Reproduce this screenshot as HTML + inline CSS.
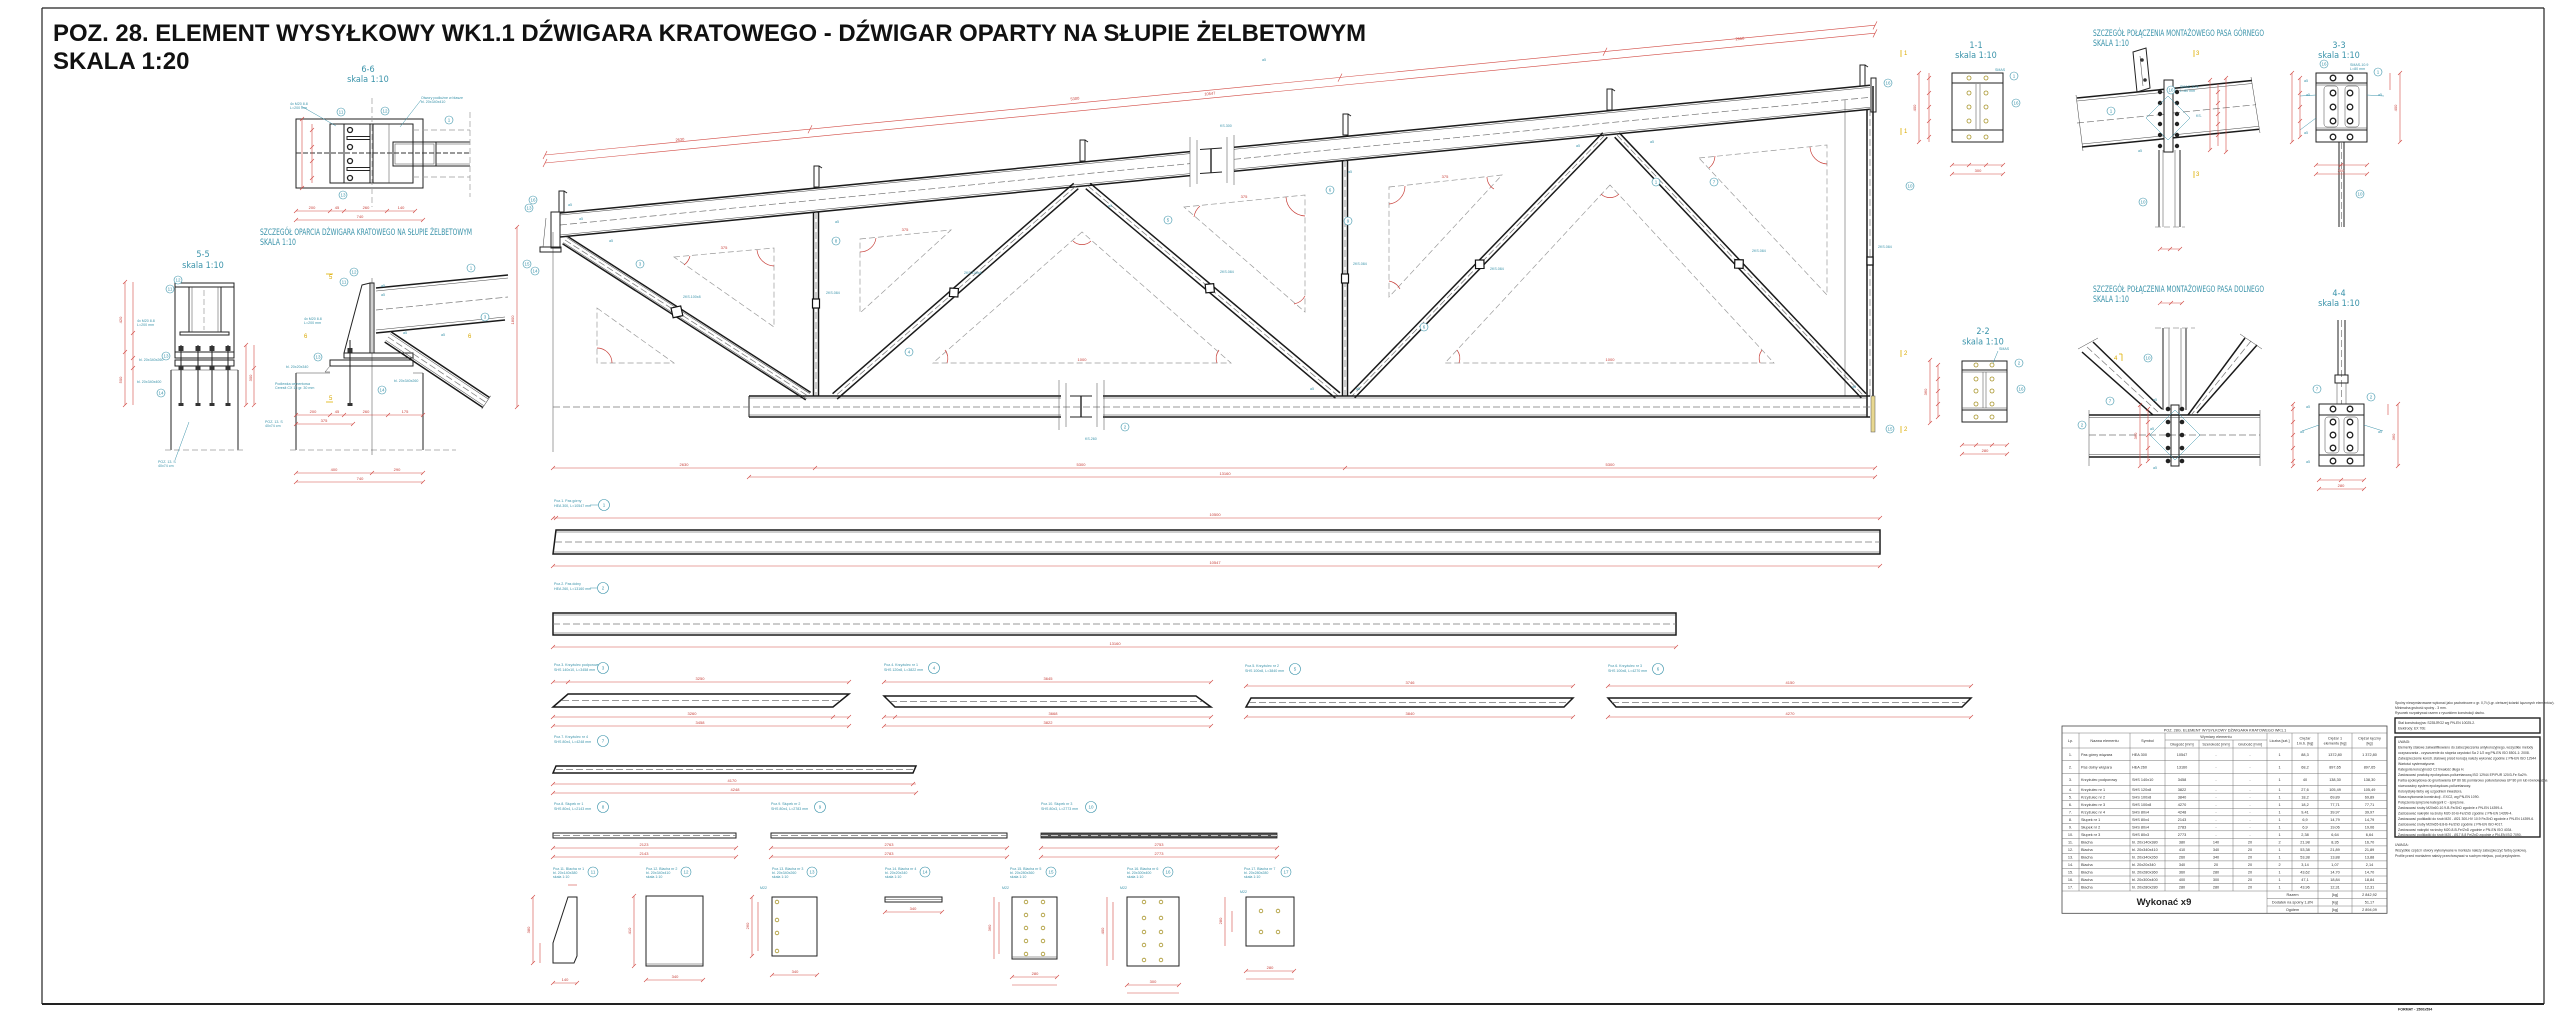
<!DOCTYPE html>
<html><head><meta charset="utf-8">
<style>
html,body{margin:0;padding:0;background:#fff;}
svg{display:block;}
.m{stroke:#1a1a1a;stroke-width:1.5;fill:none}
.k{stroke:#222;stroke-width:1;fill:none}
.t{stroke:#444;stroke-width:.5;fill:none}
.dc{stroke:#777;stroke-width:.7;stroke-dasharray:7 3;fill:none}
.dk{stroke:#333;stroke-width:1.1;stroke-dasharray:5 2;fill:none}
.g{stroke:#9a9a9a;stroke-width:.7;stroke-dasharray:6 3;fill:none}
.r{stroke:#d24a44;stroke-width:.6;fill:none}
.ra{stroke:#c8403a;stroke-width:.7;fill:none}
.cy{stroke:#3a93aa;stroke-width:.5;fill:none}
.cc{stroke:#3a93aa;stroke-width:.6;fill:#fff}
.ho{stroke:#a8952a;stroke-width:.8;fill:none}
.hb{stroke:#222;stroke-width:1.3;fill:#fff}
.dia{stroke:#111;stroke-width:1.2;fill:#fff}
.yl{stroke:#e0b000;stroke-width:.8;fill:none}
text{font-family:"Liberation Sans",Arial,sans-serif}
.ct{fill:#3a93aa;font-size:4.5px;text-anchor:middle}
.cs{fill:#3a93aa;font-size:3.6px}
.rt{fill:#c8403a;font-size:4px;text-anchor:middle}
.yt{fill:#d9a800;font-size:6px}
.st{fill:#3a93aa;font-size:9px;font-family:"DejaVu Sans Condensed","Liberation Sans Narrow","Liberation Sans",sans-serif}
.tb{fill:#333;font-size:3.8px;text-anchor:middle}
.tl{fill:#333;font-size:3.8px}
.nt{fill:#333;font-size:3.4px}
</style></head>
<body>
<svg width="2560" height="1014" viewBox="0 0 2560 1014" xmlns="http://www.w3.org/2000/svg">
<rect x="0" y="0" width="2560" height="1014" fill="#fff"/>
<!-- border -->
<line x1="42" y1="8" x2="2544" y2="8" stroke="#222" stroke-width="1.2"/>
<line x1="42" y1="8" x2="42" y2="1004" stroke="#222" stroke-width="1.2"/>
<line x1="2544" y1="8" x2="2544" y2="1004" stroke="#222" stroke-width="1.2"/>
<line x1="42" y1="1004" x2="2544" y2="1004" stroke="#222" stroke-width="2"/>
<text x="2398" y="1010.5" font-size="3.6" font-weight="bold" fill="#222">FORMAT - 1500x594</text>

<!-- title -->
<text x="53" y="41" font-size="24" font-weight="bold" fill="#111" textLength="1313" lengthAdjust="spacingAndGlyphs">POZ. 28. ELEMENT WYSYŁKOWY WK1.1 DŹWIGARA KRATOWEGO - DŹWIGAR OPARTY NA SŁUPIE ŻELBETOWYM</text>
<text x="53" y="69" font-size="24" font-weight="bold" fill="#111">SKALA 1:20</text>

<!-- ================= MAIN TRUSS ================= -->
<!-- top dimension lines (sloped) -->
<line x1="545" y1="155" x2="1875" y2="25.2" class="r"/>
<line x1="545" y1="163" x2="1875" y2="33.2" class="r"/>
<g class="r">
<line x1="543" y1="159" x2="547" y2="151"/><line x1="543" y1="167" x2="547" y2="159"/>
<line x1="808" y1="133.3" x2="812" y2="125.3"/><line x1="1338" y1="81.6" x2="1342" y2="73.6"/>
<line x1="1603" y1="55.7" x2="1607" y2="47.7"/><line x1="1873" y1="29.4" x2="1877" y2="21.4"/>
<line x1="1873" y1="37.4" x2="1877" y2="29.4"/>
</g>
<text class="rt" x="680" y="141" transform="rotate(-5.6 680 141)">2630</text>
<text class="rt" x="1075" y="100" transform="rotate(-5.6 1075 100)">5300</text>
<text class="rt" x="1210" y="95" transform="rotate(-5.6 1210 95)">10547</text>
<text class="rt" x="1740" y="40" transform="rotate(-5.6 1740 40)">2650</text>

<!-- vertical red dim left -->
<line x1="517" y1="227" x2="517" y2="407" class="r"/>
<line x1="515" y1="229" x2="519" y2="225" class="r"/><line x1="515" y1="409" x2="519" y2="405" class="r"/>
<text class="rt" x="514" y="320" transform="rotate(-90 514 320)">1800</text>
<line x1="553" y1="232" x2="553" y2="452" class="t"/>

<!-- top chord segment 1 -->
<line x1="560" y1="213" x2="1190" y2="151.6" class="m"/>
<line x1="560" y1="215" x2="1190" y2="153.6" class="t"/>
<line x1="560" y1="235" x2="1190" y2="173.6" class="t"/>
<line x1="560" y1="237" x2="1190" y2="175.6" class="m"/>
<line x1="560" y1="225" x2="1190" y2="163.6" class="dc"/>
<!-- break -->
<g class="t"><line x1="1190" y1="137" x2="1190" y2="187"/><line x1="1197" y1="140" x2="1197" y2="184"/><line x1="1227" y1="137" x2="1227" y2="183"/><line x1="1234" y1="135" x2="1234" y2="185"/></g>
<line x1="1211" y1="149" x2="1211" y2="173" stroke="#111" stroke-width="1.3"/>
<line x1="1200" y1="149.5" x2="1222" y2="148" class="k"/><line x1="1200" y1="173.5" x2="1222" y2="172" class="k"/>
<!-- top chord segment 2 -->
<line x1="1234" y1="147.3" x2="1870" y2="85.3" class="m"/>
<line x1="1234" y1="149.3" x2="1870" y2="87.3" class="t"/>
<line x1="1234" y1="169.3" x2="1870" y2="107.3" class="t"/>
<line x1="1234" y1="171.3" x2="1870" y2="109.3" class="m"/>
<line x1="1234" y1="159.3" x2="1870" y2="97.3" class="dc"/>

<!-- left end plate & stiffener -->
<rect x="551" y="212" width="9" height="36" class="k" fill="#fff"/>
<rect x="540" y="247" width="21" height="5" class="k" fill="#ddd"/>
<line x1="546" y1="218" x2="543" y2="247" class="t"/>
<!-- right end plate -->
<rect x="1871" y="78" width="5" height="34" class="k" fill="#ddd"/>

<!-- purlin cleats -->
<g class="k" fill="#eee">
<rect x="559" y="191" width="5" height="21"/>
<rect x="814" y="166" width="5" height="21"/>
<rect x="1080" y="140" width="5" height="21"/>
<rect x="1343" y="114" width="5" height="21"/>
<rect x="1607" y="89" width="5" height="21"/>
<rect x="1860" y="65" width="5" height="21"/>
</g>
<g class="k">
<line x1="564" y1="191" x2="567" y2="193"/><line x1="819" y1="166" x2="822" y2="168"/>
<line x1="1085" y1="140" x2="1088" y2="142"/><line x1="1348" y1="114" x2="1351" y2="116"/>
<line x1="1612" y1="89" x2="1615" y2="91"/><line x1="1865" y1="65" x2="1868" y2="67"/>
</g>

<!-- posts -->
<line x1="813.5" y1="212" x2="813.5" y2="396" class="m"/>
<line x1="818.5" y1="212" x2="818.5" y2="396" class="m"/>
<line x1="816" y1="212" x2="816" y2="396" class="dc"/>
<rect x="812.5" y="299" width="7" height="9" class="dia"/>
<line x1="1342.5" y1="160" x2="1342.5" y2="396" class="m"/>
<line x1="1347.5" y1="160" x2="1347.5" y2="396" class="m"/>
<line x1="1345" y1="160" x2="1345" y2="396" class="dc"/>
<rect x="1341.5" y="274" width="7" height="9" class="dia"/>
<line x1="1867" y1="109" x2="1867" y2="417" class="m"/>
<line x1="1873" y1="86" x2="1873" y2="417" class="m"/>
<line x1="1870" y1="109" x2="1870" y2="396" class="dc"/>
<rect x="1867" y="257" width="6" height="8" class="dia"/>
<line x1="1845" y1="100" x2="1845" y2="396" class="t"/>

<!-- diagonals -->
<g transform="translate(565,240) rotate(32.7)">
<line x1="0" y1="-4.5" x2="289" y2="-4.5" class="m"/><line x1="0" y1="4.5" x2="289" y2="4.5" class="m"/>
<line x1="0" y1="-3" x2="289" y2="-3" class="t"/><line x1="0" y1="3" x2="289" y2="3" class="t"/>
<line x1="0" y1="0" x2="289" y2="0" class="dc"/>
<polygon points="126,0 133,-7 140,0 133,7" class="dia"/>
</g>
<g transform="translate(1076,186) rotate(138.9)">
<line x1="0" y1="-3.5" x2="320" y2="-3.5" class="m"/><line x1="0" y1="3.5" x2="320" y2="3.5" class="m"/>
<line x1="0" y1="0" x2="320" y2="0" class="dc"/>
<polygon points="156,0 162,-6 168,0 162,6" class="dia"/>
</g>
<g transform="translate(1088,186) rotate(40)">
<line x1="0" y1="-3.5" x2="326" y2="-3.5" class="m"/><line x1="0" y1="3.5" x2="326" y2="3.5" class="m"/>
<line x1="0" y1="0" x2="326" y2="0" class="dc"/>
<polygon points="153,0 159,-6 165,0 159,6" class="dia"/>
</g>
<g transform="translate(1605,135) rotate(134.1)">
<line x1="0" y1="-3.2" x2="363" y2="-3.2" class="m"/><line x1="0" y1="3.2" x2="363" y2="3.2" class="m"/>
<line x1="0" y1="0" x2="363" y2="0" class="dc"/>
<polygon points="174,0 180,-6 186,0 180,6" class="dia"/>
</g>
<g transform="translate(1617,135) rotate(46.6)">
<line x1="0" y1="-3.2" x2="359" y2="-3.2" class="m"/><line x1="0" y1="3.2" x2="359" y2="3.2" class="m"/>
<line x1="0" y1="0" x2="359" y2="0" class="dc"/>
<polygon points="171.5,0 177.5,-6 183.5,0 177.5,6" class="dia"/>
</g>

<!-- bottom chord -->
<line x1="749" y1="396" x2="1061" y2="396" class="m"/>
<line x1="749" y1="398" x2="1061" y2="398" class="t"/>
<line x1="749" y1="415" x2="1061" y2="415" class="t"/>
<line x1="749" y1="417" x2="1061" y2="417" class="m"/>
<line x1="749" y1="396" x2="749" y2="417" class="k"/>
<line x1="1103" y1="396" x2="1870" y2="396" class="m"/>
<line x1="1103" y1="398" x2="1867" y2="398" class="t"/>
<line x1="1103" y1="415" x2="1867" y2="415" class="t"/>
<line x1="1103" y1="417" x2="1870" y2="417" class="m"/>
<line x1="553" y1="407" x2="1870" y2="407" class="dc"/>
<g class="t"><line x1="1059" y1="380" x2="1059" y2="430"/><line x1="1066" y1="383" x2="1066" y2="427"/><line x1="1097" y1="383" x2="1097" y2="427"/><line x1="1104" y1="380" x2="1104" y2="430"/></g>
<line x1="1081" y1="396" x2="1081" y2="417" stroke="#111" stroke-width="1.3"/>
<line x1="1070" y1="396" x2="1092" y2="396" class="k"/><line x1="1070" y1="417" x2="1092" y2="417" class="k"/>
<rect x="1871" y="396" width="4" height="36" fill="#e8d890" stroke="#555" stroke-width=".5"/>

<!-- dashed angle triangles -->
<g class="g">
<polygon points="674,257 774,248 774,327"/>
<polygon points="597,308 674,363 597,363"/>
<polygon points="860,239 951,230 860,313"/>
<polygon points="1184,207 1305,195 1305,312"/>
<polygon points="1389,187 1502,175 1389,297"/>
<polygon points="1699,158 1827,145 1827,295"/>
<polygon points="1082,232 933,363 1231,363"/>
<polygon points="1610,185 1445,363 1774,363"/>
</g>
<g class="ra">
<path d="M1073,241 A13,13 0 0 0 1091,241"/><path d="M1601,194 A13,13 0 0 0 1619,194"/>
<path d="M945,350 A14,14 0 0 1 947,363"/><path d="M1219,350 A14,14 0 0 0 1217,363"/>
<path d="M1457,350 A14,14 0 0 1 1459,363"/><path d="M1762,350 A14,14 0 0 0 1760,363"/>
<path d="M1200,206 A18,18 0 0 0 1194,217"/><path d="M1286,197 A20,20 0 0 0 1305,216"/>
<path d="M1405,186 A18,18 0 0 1 1389,204"/><path d="M1487,177 A14,14 0 0 0 1494,189"/>
<path d="M1715,156 A16,16 0 0 1 1709,168"/><path d="M1810,147 A18,18 0 0 0 1827,164"/>
<path d="M690,256 A16,16 0 0 1 684,265"/><path d="M757,250 A18,18 0 0 0 774,266"/>
<path d="M876,238 A16,16 0 0 1 860,252"/><path d="M597,348 A15,15 0 0 1 612,363"/>
<path d="M1389,281 A16,16 0 0 1 1400,289"/><path d="M1305,296 A16,16 0 0 1 1294,304"/>
</g>
<text class="rt" x="724" y="249">375</text><text class="rt" x="905" y="231">375</text>
<text class="rt" x="1244" y="198">375</text><text class="rt" x="1445" y="178">375</text>
<text class="rt" x="1082" y="361">1000</text><text class="rt" x="1610" y="361">1000</text>

<!-- bottom dims -->
<line x1="553" y1="468" x2="1875" y2="468" class="r"/>
<line x1="749" y1="477" x2="1875" y2="477" class="r"/>
<g class="r">
<line x1="551" y1="470" x2="555" y2="466"/><line x1="813" y1="470" x2="817" y2="466"/>
<line x1="1343" y1="470" x2="1347" y2="466"/><line x1="1873" y1="470" x2="1877" y2="466"/>
<line x1="747" y1="479" x2="751" y2="475"/><line x1="1873" y1="479" x2="1877" y2="475"/>
</g>
<text class="rt" x="684" y="466">2630</text><text class="rt" x="1081" y="466">5300</text><text class="rt" x="1610" y="466">5300</text>
<text class="rt" x="1225" y="475">13160</text>

<!-- cyan labels main truss -->
<g>
<circle cx="533" cy="200" r="4" class="cc"/><text class="ct" x="533" y="201.5">16</text>
<circle cx="529" cy="208" r="4" class="cc"/><text class="ct" x="529" y="209.5">13</text>
<circle cx="527" cy="264" r="4" class="cc"/><text class="ct" x="527" y="265.5">15</text>
<circle cx="535" cy="271" r="4" class="cc"/><text class="ct" x="535" y="272.5">14</text>
<circle cx="640" cy="264" r="4" class="cc"/><text class="ct" x="640" y="265.5">3</text>
<circle cx="836" cy="241" r="4" class="cc"/><text class="ct" x="836" y="242.5">8</text>
<circle cx="1168" cy="220" r="4" class="cc"/><text class="ct" x="1168" y="221.5">5</text>
<circle cx="1348" cy="221" r="4" class="cc"/><text class="ct" x="1348" y="222.5">9</text>
<circle cx="1330" cy="190" r="4" class="cc"/><text class="ct" x="1330" y="191.5">6</text>
<circle cx="1424" cy="327" r="4" class="cc"/><text class="ct" x="1424" y="328.5">6</text>
<circle cx="1714" cy="182" r="4" class="cc"/><text class="ct" x="1714" y="183.5">7</text>
<circle cx="1910" cy="186" r="4" class="cc"/><text class="ct" x="1910" y="187.5">10</text>
<circle cx="1888" cy="83" r="4" class="cc"/><text class="ct" x="1888" y="84.5">16</text>
<circle cx="1890" cy="429" r="4" class="cc"/><text class="ct" x="1890" y="430.5">15</text>
<circle cx="1125" cy="427" r="4" class="cc"/><text class="ct" x="1125" y="428.5">2</text>
<circle cx="1656" cy="182" r="4" class="cc"/><text class="ct" x="1656" y="183.5">1</text>
<circle cx="909" cy="352" r="4" class="cc"/><text class="ct" x="909" y="353.5">4</text>
</g>
<g class="cs">
<text x="568" y="206">a5</text><text x="579" y="220">a5</text><text x="609" y="242">a5</text>
<text x="683" y="298">2KS.100x8</text><text x="826" y="294">2KS.084</text><text x="964" y="274">2KS.100x8</text>
<text x="1220" y="273">2KS.084</text><text x="1353" y="265">2KS.084</text><text x="1490" y="270">2KS.084</text>
<text x="1752" y="252">2KS.084</text><text x="1878" y="248">2KS.084</text><text x="1085" y="440">KS.260</text>
<text x="1220" y="127">KS.300</text><text x="1262" y="61">a5</text><text x="835" y="223">a5</text>
<text x="1108" y="207">a5</text><text x="1348" y="173">a5</text><text x="1576" y="147">a5</text><text x="1650" y="143">a5</text>
<text x="1310" y="390">a5</text><text x="1356" y="390">a5</text><text x="1852" y="388">a5</text>
</g>

<!-- ================= 6-6 DETAIL ================= -->
<text class="st" x="368" y="72" text-anchor="middle" font-size="8">6-6</text>
<text class="st" x="368" y="82" text-anchor="middle" font-size="7">skala 1:10</text>
<rect x="296" y="119" width="127" height="69" class="k"/>
<rect x="330" y="124" width="83" height="59" class="k"/>
<line x1="344" y1="124" x2="344" y2="183" class="k"/>
<line x1="370" y1="124" x2="370" y2="183" class="k"/><line x1="373" y1="124" x2="373" y2="183" class="k"/>
<line x1="389" y1="124" x2="389" y2="183" class="t"/>
<rect x="347" y="136.5" width="23" height="3" class="k" fill="#ddd"/>
<rect x="347" y="167.5" width="23" height="3" class="k" fill="#ddd"/>
<circle cx="350" cy="130" r="2.5" class="hb"/><circle cx="350" cy="147" r="2.5" class="hb"/>
<circle cx="350" cy="161" r="2.5" class="hb"/><circle cx="350" cy="178" r="2.5" class="hb"/>
<rect x="393" y="142" width="43" height="24" class="k"/>
<rect x="395" y="144" width="39" height="20" class="t"/>
<line x1="436" y1="142" x2="470" y2="142" class="k"/><line x1="436" y1="166" x2="470" y2="166" class="k"/>
<line x1="436" y1="144" x2="470" y2="144" class="t"/><line x1="436" y1="164" x2="470" y2="164" class="t"/>
<line x1="296" y1="153" x2="470" y2="153" class="dk"/>
<line x1="413" y1="130" x2="470" y2="130" class="g"/><line x1="413" y1="177" x2="470" y2="177" class="g"/>
<line x1="372" y1="98" x2="372" y2="207" class="g"/><line x1="470" y1="112" x2="470" y2="197" class="g"/>
<line x1="296" y1="211" x2="415" y2="211" class="r"/><line x1="296" y1="220" x2="423" y2="220" class="r"/>
<g class="r"><line x1="294" y1="213" x2="298" y2="209"/><line x1="328" y1="213" x2="332" y2="209"/><line x1="342" y1="213" x2="346" y2="209"/><line x1="385" y1="213" x2="389" y2="209"/><line x1="413" y1="213" x2="417" y2="209"/><line x1="294" y1="222" x2="298" y2="218"/><line x1="421" y1="222" x2="425" y2="218"/>
<line x1="302" y1="119" x2="302" y2="188"/><line x1="312" y1="124" x2="312" y2="183"/>
<line x1="300" y1="121" x2="304" y2="117"/><line x1="300" y1="190" x2="304" y2="186"/><line x1="310" y1="132" x2="314" y2="128"/><line x1="310" y1="149" x2="314" y2="145"/><line x1="310" y1="163" x2="314" y2="159"/><line x1="310" y1="180" x2="314" y2="176"/></g>
<text class="rt" x="312" y="209">200</text><text class="rt" x="337" y="209">45</text><text class="rt" x="366" y="209">260</text><text class="rt" x="401" y="209">140</text><text class="rt" x="360" y="218">740</text>
<circle cx="341" cy="112" r="4" class="cc"/><text class="ct" x="341" y="113.5">11</text>
<circle cx="385" cy="111" r="4" class="cc"/><text class="ct" x="385" y="112.5">12</text>
<circle cx="343" cy="195" r="4" class="cc"/><text class="ct" x="343" y="196.5">13</text>
<circle cx="449" cy="120" r="4" class="cc"/><text class="ct" x="449" y="121.5">1</text>
<text class="cs" x="290" y="105">4x M20 8.8</text><text class="cs" x="290" y="109">L=200 mm</text>
<text class="cs" x="421" y="99">Otwory podłużne w blasze</text><text class="cs" x="421" y="103">bl. 20x340x410</text>
<line x1="301" y1="106" x2="336" y2="126" class="cy"/><line x1="421" y1="100" x2="400" y2="127" class="cy"/>
<text class="st" x="260" y="235" textLength="212" lengthAdjust="spacingAndGlyphs">SZCZEGÓŁ OPARCIA DŹWIGARA KRATOWEGO NA SŁUPIE ŻELBETOWYM</text>
<text class="st" x="260" y="245" textLength="36" lengthAdjust="spacingAndGlyphs">SKALA 1:10</text>

<!-- ================= 5-5 DETAIL ================= -->
<text class="st" x="203" y="257" text-anchor="middle" font-size="8">5-5</text>
<text class="st" x="203" y="268" text-anchor="middle" font-size="7">skala 1:10</text>
<line x1="175" y1="283" x2="175" y2="352" class="k"/><line x1="234" y1="283" x2="234" y2="352" class="k"/>
<rect x="175" y="283" width="59" height="4" class="k" fill="#eee"/>
<rect x="180" y="332" width="49" height="3" class="k" fill="#eee"/>
<line x1="189" y1="287" x2="189" y2="332" class="k"/><line x1="192" y1="287" x2="192" y2="332" class="t"/>
<line x1="218" y1="287" x2="218" y2="332" class="t"/><line x1="221" y1="287" x2="221" y2="332" class="k"/>
<line x1="204" y1="290" x2="204" y2="330" class="g"/>
<rect x="175" y="352" width="59" height="6" class="k" fill="#cfcfcf"/>
<rect x="175" y="360" width="59" height="6" class="k" fill="#e2e2e2"/>
<g class="k">
<line x1="181" y1="345" x2="181" y2="405"/><line x1="198" y1="345" x2="198" y2="405"/>
<line x1="212" y1="345" x2="212" y2="405"/><line x1="228" y1="345" x2="228" y2="405"/>
</g>
<g fill="#333">
<rect x="178.5" y="346" width="5" height="5"/><rect x="195.5" y="346" width="5" height="5"/><rect x="209.5" y="346" width="5" height="5"/><rect x="225.5" y="346" width="5" height="5"/>
<rect x="178.5" y="366" width="5" height="4"/><rect x="195.5" y="366" width="5" height="4"/><rect x="209.5" y="366" width="5" height="4"/><rect x="225.5" y="366" width="5" height="4"/>
<rect x="178.5" y="403" width="5" height="3"/><rect x="195.5" y="403" width="5" height="3"/><rect x="209.5" y="403" width="5" height="3"/><rect x="225.5" y="403" width="5" height="3"/>
</g>
<line x1="171" y1="370" x2="171" y2="450" class="k"/><line x1="238" y1="370" x2="238" y2="450" class="k"/>
<line x1="171" y1="370" x2="238" y2="370" class="t"/>
<line x1="165" y1="450" x2="245" y2="450" class="g"/>
<g class="r">
<line x1="125" y1="282" x2="125" y2="405"/><line x1="133" y1="282" x2="133" y2="405"/>
<line x1="246" y1="345" x2="246" y2="405"/><line x1="254" y1="345" x2="254" y2="405"/>
<line x1="123" y1="284" x2="127" y2="280"/><line x1="123" y1="354" x2="127" y2="350"/><line x1="123" y1="407" x2="127" y2="403"/>
<line x1="131" y1="335" x2="135" y2="331"/><line x1="131" y1="360" x2="135" y2="356"/><line x1="131" y1="370" x2="135" y2="366"/>
<line x1="244" y1="347" x2="248" y2="343"/><line x1="244" y1="407" x2="248" y2="403"/><line x1="252" y1="370" x2="256" y2="366"/><line x1="252" y1="407" x2="256" y2="403"/>
</g>
<text class="rt" x="122" y="320" transform="rotate(-90 122 320)">420</text>
<text class="rt" x="122" y="380" transform="rotate(-90 122 380)">500</text>
<text class="rt" x="252" y="378" transform="rotate(-90 252 378)">300</text>
<circle cx="170" cy="289" r="4" class="cc"/><text class="ct" x="170" y="290.5">11</text>
<circle cx="178" cy="280" r="4" class="cc"/><text class="ct" x="178" y="281.5">12</text>
<circle cx="166" cy="356" r="4" class="cc"/><text class="ct" x="166" y="357.5">13</text>
<circle cx="161" cy="393" r="4" class="cc"/><text class="ct" x="161" y="394.5">14</text>
<text class="cs" x="137" y="322">4x M20 8.8</text><text class="cs" x="137" y="326">L=200 mm</text>
<text class="cs" x="139" y="361">bl. 20x340x260</text><text class="cs" x="137" y="383">bl. 20x340x400</text>
<text class="cs" x="158" y="463">POZ. 13. S</text><text class="cs" x="158" y="467">40x74 cm</text>
<line x1="175" y1="460" x2="189" y2="422" class="cy"/>

<!-- ================= SUPPORT ELEVATION ================= -->
<line x1="296" y1="373" x2="296" y2="450" class="k"/><line x1="423" y1="373" x2="423" y2="450" class="k"/>
<line x1="296" y1="373" x2="330" y2="373" class="t"/><line x1="413" y1="373" x2="423" y2="373" class="t"/>
<line x1="290" y1="450" x2="456" y2="450" class="g"/>
<line x1="372" y1="278" x2="372" y2="455" class="t"/>
<rect x="330" y="360" width="83" height="6" class="k" fill="#d6d6d6"/>
<rect x="344" y="353" width="69" height="5" class="k" fill="#c8c8c8"/>
<path d="M330,366 L325,372 L330,372" class="t"/>
<line x1="350" y1="340" x2="350" y2="405" class="k"/>
<rect x="347.5" y="348" width="5" height="5" fill="#333"/><rect x="347.5" y="403" width="5" height="3" fill="#333"/>
<polygon points="362,285 370,283 370,353 344,353 350,330" class="k" fill="#fff"/>
<rect x="370" y="283" width="4" height="70" class="k" fill="#eee"/>
<line x1="376" y1="288" x2="508" y2="275" class="m"/>
<line x1="376" y1="291" x2="508" y2="278" class="t"/>
<line x1="376" y1="330" x2="505" y2="317" class="t"/>
<line x1="376" y1="333" x2="505" y2="320" class="m"/>
<line x1="376" y1="310" x2="508" y2="297" class="dc"/>
<g transform="translate(388,337) rotate(33.7)">
<line x1="0" y1="-6" x2="118" y2="-6" class="m"/><line x1="0" y1="6" x2="118" y2="6" class="m"/>
<line x1="0" y1="-4" x2="118" y2="-4" class="t"/><line x1="0" y1="4" x2="118" y2="4" class="t"/>
<line x1="0" y1="0" x2="118" y2="0" class="dc"/>
<line x1="118" y1="-8" x2="118" y2="8" class="t"/>
</g>
<line x1="296" y1="415" x2="423" y2="415" class="r"/><line x1="296" y1="424" x2="353" y2="424" class="r"/>
<line x1="296" y1="473" x2="423" y2="473" class="r"/><line x1="296" y1="482" x2="423" y2="482" class="r"/>
<g class="r"><line x1="294" y1="417" x2="298" y2="413"/><line x1="328" y1="417" x2="332" y2="413"/><line x1="342" y1="417" x2="346" y2="413"/><line x1="386" y1="417" x2="390" y2="413"/><line x1="421" y1="417" x2="425" y2="413"/>
<line x1="294" y1="426" x2="298" y2="422"/><line x1="351" y1="426" x2="355" y2="422"/>
<line x1="294" y1="475" x2="298" y2="471"/><line x1="370" y1="475" x2="374" y2="471"/><line x1="421" y1="475" x2="425" y2="471"/>
<line x1="294" y1="484" x2="298" y2="480"/><line x1="421" y1="484" x2="425" y2="480"/></g>
<text class="rt" x="313" y="413">200</text><text class="rt" x="337" y="413">45</text><text class="rt" x="366" y="413">260</text><text class="rt" x="405" y="413">175</text>
<text class="rt" x="324" y="422">375</text><text class="rt" x="334" y="471">400</text><text class="rt" x="397" y="471">290</text><text class="rt" x="360" y="480">740</text>
<text class="yt" x="329" y="279">5</text><text class="yt" x="329" y="400">5</text>
<text class="yt" x="304" y="338">6</text><text class="yt" x="468" y="338">6</text>
<line x1="326" y1="274" x2="333" y2="274" class="yl"/><line x1="326" y1="402" x2="333" y2="402" class="yl"/>
<circle cx="354" cy="272" r="4" class="cc"/><text class="ct" x="354" y="273.5">12</text>
<circle cx="344" cy="282" r="4" class="cc"/><text class="ct" x="344" y="283.5">11</text>
<circle cx="318" cy="357" r="4" class="cc"/><text class="ct" x="318" y="358.5">13</text>
<circle cx="382" cy="390" r="4" class="cc"/><text class="ct" x="382" y="391.5">14</text>
<circle cx="485" cy="317" r="4" class="cc"/><text class="ct" x="485" y="318.5">3</text>
<circle cx="471" cy="268" r="4" class="cc"/><text class="ct" x="471" y="269.5">1</text>
<text class="cs" x="304" y="320">4x M20 8.8</text><text class="cs" x="304" y="324">L=200 mm</text>
<text class="cs" x="286" y="368">bl. 20x20x340</text><text class="cs" x="275" y="385">Podlewka cementowa</text><text class="cs" x="275" y="389">Ceresit CX 15 gr. 30 mm</text>
<text class="cs" x="394" y="382">bl. 20x340x260</text>
<text class="cs" x="265" y="423">POZ. 13. S</text><text class="cs" x="265" y="427">40x74 cm</text>
<text class="cs" x="381" y="287">a5</text><text class="cs" x="381" y="296">a5</text><text class="cs" x="403" y="334">a5</text><text class="cs" x="441" y="336">a5</text>

<!-- ================= PARTS LIST ================= -->
<!-- Poz 1 -->
<text class="cs" x="554" y="502">Poz.1. Pas górny</text><text class="cs" x="554" y="507">HEA 300, L=10547 mm</text>
<line x1="590" y1="505" x2="598" y2="505" class="cy"/><circle cx="604" cy="505" r="5.5" class="cc"/><text class="ct" x="604" y="506.5">1</text>
<line x1="553" y1="518" x2="1880" y2="518" class="r"/><line x1="553" y1="566" x2="1880" y2="566" class="r"/>
<g class="r"><line x1="551" y1="520" x2="555" y2="516"/><line x1="554" y1="520" x2="558" y2="516"/><line x1="1878" y1="520" x2="1882" y2="516"/><line x1="551" y1="568" x2="555" y2="564"/><line x1="1878" y1="568" x2="1882" y2="564"/></g>
<text class="rt" x="1215" y="516">10500</text><text class="rt" x="1215" y="564">10547</text>
<polygon points="556,530 1880,530 1880,554 553,554" class="m"/>
<line x1="556" y1="532" x2="1880" y2="532" class="t"/><line x1="553" y1="552" x2="1880" y2="552" class="t"/>
<line x1="555" y1="542" x2="1880" y2="542" class="dc"/>
<!-- Poz 2 -->
<text class="cs" x="554" y="585">Poz.2. Pas dolny</text><text class="cs" x="554" y="590">HEA 260, L=13160 mm</text>
<line x1="590" y1="588" x2="597" y2="588" class="cy"/><circle cx="603" cy="588" r="5.5" class="cc"/><text class="ct" x="603" y="589.5">2</text>
<rect x="553" y="613" width="1123" height="22" class="m"/>
<line x1="553" y1="615" x2="1676" y2="615" class="t"/><line x1="553" y1="633" x2="1676" y2="633" class="t"/>
<line x1="553" y1="624" x2="1676" y2="624" class="dc"/>
<line x1="553" y1="647" x2="1676" y2="647" class="r"/>
<g class="r"><line x1="551" y1="649" x2="555" y2="645"/><line x1="1674" y1="649" x2="1678" y2="645"/></g>
<text class="rt" x="1115" y="645">13160</text>
<!-- Poz 3..6 -->
<text class="cs" x="554" y="666">Poz.3. Krzyżulec podporowy</text><text class="cs" x="554" y="671">SHS 140x10, L=3458 mm</text>
<circle cx="603" cy="668" r="5.5" class="cc"/><text class="ct" x="603" y="669.5">3</text>
<text class="cs" x="884" y="666">Poz.4. Krzyżulec nr 1</text><text class="cs" x="884" y="671">SHS 120x8, L=3822 mm</text>
<circle cx="934" cy="668" r="5.5" class="cc"/><text class="ct" x="934" y="669.5">4</text>
<text class="cs" x="1245" y="667">Poz.5. Krzyżulec nr 2</text><text class="cs" x="1245" y="672">SHS 100x8, L=3840 mm</text>
<circle cx="1295" cy="669" r="5.5" class="cc"/><text class="ct" x="1295" y="670.5">5</text>
<text class="cs" x="1608" y="667">Poz.6. Krzyżulec nr 3</text><text class="cs" x="1608" y="672">SHS 100x8, L=4270 mm</text>
<circle cx="1658" cy="669" r="5.5" class="cc"/><text class="ct" x="1658" y="670.5">6</text>
<g class="m" stroke-width="1.3">
<polygon points="568,694 849,694 833,707 553,707"/>
<polygon points="884,696 1196,696 1211,707 895,707"/>
<polygon points="1251,698 1573,698 1564,707 1246,707"/>
<polygon points="1608,698 1971,698 1962,707 1616,707"/>
</g>
<g class="dc" stroke="#555"><line x1="562" y1="700.5" x2="842" y2="700.5"/><line x1="890" y1="701.5" x2="1203" y2="701.5"/><line x1="1249" y1="702.5" x2="1568" y2="702.5"/><line x1="1612" y1="702.5" x2="1966" y2="702.5"/></g>
<g class="r">
<line x1="553" y1="682" x2="849" y2="682"/><line x1="553" y1="717" x2="849" y2="717"/><line x1="553" y1="726" x2="849" y2="726"/>
<line x1="884" y1="682" x2="1211" y2="682"/><line x1="884" y1="717" x2="1211" y2="717"/><line x1="884" y1="726" x2="1211" y2="726"/>
<line x1="1246" y1="686" x2="1573" y2="686"/><line x1="1246" y1="717" x2="1573" y2="717"/>
<line x1="1608" y1="686" x2="1971" y2="686"/><line x1="1608" y1="717" x2="1971" y2="717"/>
<line x1="551" y1="684" x2="555" y2="680"/><line x1="566" y1="684" x2="570" y2="680"/><line x1="847" y1="684" x2="851" y2="680"/>
<line x1="551" y1="719" x2="555" y2="715"/><line x1="831" y1="719" x2="835" y2="715"/><line x1="847" y1="719" x2="851" y2="715"/>
<line x1="551" y1="728" x2="555" y2="724"/><line x1="847" y1="728" x2="851" y2="724"/>
<line x1="882" y1="684" x2="886" y2="680"/><line x1="1209" y1="684" x2="1213" y2="680"/><line x1="882" y1="719" x2="886" y2="715"/><line x1="893" y1="719" x2="897" y2="715"/><line x1="1209" y1="719" x2="1213" y2="715"/><line x1="882" y1="728" x2="886" y2="724"/><line x1="1209" y1="728" x2="1213" y2="724"/>
<line x1="1244" y1="688" x2="1248" y2="684"/><line x1="1571" y1="688" x2="1575" y2="684"/><line x1="1244" y1="719" x2="1248" y2="715"/><line x1="1571" y1="719" x2="1575" y2="715"/>
<line x1="1606" y1="688" x2="1610" y2="684"/><line x1="1969" y1="688" x2="1973" y2="684"/><line x1="1606" y1="719" x2="1610" y2="715"/><line x1="1969" y1="719" x2="1973" y2="715"/>
</g>
<text class="rt" x="700" y="680">3250</text><text class="rt" x="692" y="715">3260</text><text class="rt" x="700" y="724">3458</text>
<text class="rt" x="1048" y="680">3645</text><text class="rt" x="1053" y="715">3668</text><text class="rt" x="1048" y="724">3822</text>
<text class="rt" x="1410" y="684">3746</text><text class="rt" x="1410" y="715">3840</text>
<text class="rt" x="1790" y="684">4150</text><text class="rt" x="1790" y="715">4270</text>
<!-- Poz 7 -->
<text class="cs" x="554" y="738">Poz.7. Krzyżulec nr 4</text><text class="cs" x="554" y="743">SHS 80x4, L=4248 mm</text>
<circle cx="603" cy="741" r="5.5" class="cc"/><text class="ct" x="603" y="742.5">7</text>
<polygon points="556,766 916,766 913,773 553,773" class="m" stroke-width="1.2"/>
<line x1="556" y1="769.5" x2="913" y2="769.5" class="dc"/>
<line x1="553" y1="784" x2="916" y2="784" class="r"/><line x1="553" y1="793" x2="916" y2="793" class="r"/>
<g class="r"><line x1="551" y1="786" x2="555" y2="782"/><line x1="911" y1="786" x2="915" y2="782"/><line x1="551" y1="795" x2="555" y2="791"/><line x1="914" y1="795" x2="918" y2="791"/></g>
<text class="rt" x="732" y="782">4170</text><text class="rt" x="735" y="791">4248</text>
<!-- Poz 8,9,10 -->
<text class="cs" x="554" y="805">Poz.8. Słupek nr 1</text><text class="cs" x="554" y="810">SHS 80x4, L=2143 mm</text>
<circle cx="603" cy="807" r="5.5" class="cc"/><text class="ct" x="603" y="808.5">8</text>
<text class="cs" x="771" y="805">Poz.9. Słupek nr 2</text><text class="cs" x="771" y="810">SHS 80x4, L=2783 mm</text>
<circle cx="820" cy="807" r="5.5" class="cc"/><text class="ct" x="820" y="808.5">9</text>
<text class="cs" x="1041" y="805">Poz.10. Słupek nr 3</text><text class="cs" x="1041" y="810">SHS 80x3, L=2773 mm</text>
<circle cx="1091" cy="807" r="5.5" class="cc"/><text class="ct" x="1091" y="808.5">10</text>
<rect x="553" y="833" width="183" height="5" class="k"/><line x1="553" y1="835.5" x2="736" y2="835.5" class="dc" stroke="#444"/>
<rect x="771" y="833" width="236" height="5" class="k"/><line x1="771" y1="835.5" x2="1007" y2="835.5" class="dc" stroke="#444"/>
<rect x="1041" y="833" width="236" height="5" fill="#555" stroke="#222" stroke-width=".8"/><line x1="1041" y1="835.5" x2="1277" y2="835.5" stroke="#eee" stroke-width=".8" stroke-dasharray="7 3"/>
<g class="r">
<line x1="553" y1="848" x2="736" y2="848"/><line x1="553" y1="857" x2="736" y2="857"/>
<line x1="771" y1="848" x2="1007" y2="848"/><line x1="771" y1="857" x2="1007" y2="857"/>
<line x1="1041" y1="848" x2="1277" y2="848"/><line x1="1041" y1="857" x2="1277" y2="857"/>
<line x1="551" y1="850" x2="555" y2="846"/><line x1="734" y1="850" x2="738" y2="846"/><line x1="551" y1="859" x2="555" y2="855"/><line x1="734" y1="859" x2="738" y2="855"/>
<line x1="769" y1="850" x2="773" y2="846"/><line x1="1005" y1="850" x2="1009" y2="846"/><line x1="769" y1="859" x2="773" y2="855"/><line x1="1005" y1="859" x2="1009" y2="855"/>
<line x1="1039" y1="850" x2="1043" y2="846"/><line x1="1275" y1="850" x2="1279" y2="846"/><line x1="1039" y1="859" x2="1043" y2="855"/><line x1="1275" y1="859" x2="1279" y2="855"/>
</g>
<text class="rt" x="644" y="846">2123</text><text class="rt" x="644" y="855">2143</text>
<text class="rt" x="889" y="846">2763</text><text class="rt" x="889" y="855">2783</text>
<text class="rt" x="1159" y="846">2753</text><text class="rt" x="1159" y="855">2773</text>

<!-- plates -->
<g class="cs">
<text x="553" y="870">Poz.11. Blacha nr 1</text><text x="553" y="874">bl. 20x140x380</text><text x="553" y="878">skala 1:10</text>
<text x="646" y="870">Poz.12. Blacha nr 2</text><text x="646" y="874">bl. 20x340x410</text><text x="646" y="878">skala 1:10</text>
<text x="772" y="870">Poz.13. Blacha nr 3</text><text x="772" y="874">bl. 20x340x260</text><text x="772" y="878">skala 1:10</text>
<text x="885" y="870">Poz.14. Blacha nr 4</text><text x="885" y="874">bl. 20x20x340</text><text x="885" y="878">skala 1:10</text>
<text x="1010" y="870">Poz.15. Blacha nr 5</text><text x="1010" y="874">bl. 20x280x360</text><text x="1010" y="878">skala 1:10</text>
<text x="1127" y="870">Poz.16. Blacha nr 6</text><text x="1127" y="874">bl. 20x300x400</text><text x="1127" y="878">skala 1:10</text>
<text x="1244" y="870">Poz.17. Blacha nr 7</text><text x="1244" y="874">bl. 20x280x280</text><text x="1244" y="878">skala 1:10</text>
</g>
<circle cx="593" cy="872" r="5" class="cc"/><text class="ct" x="593" y="873.5">11</text>
<circle cx="686" cy="872" r="5" class="cc"/><text class="ct" x="686" y="873.5">12</text>
<circle cx="812" cy="872" r="5" class="cc"/><text class="ct" x="812" y="873.5">13</text>
<circle cx="925" cy="872" r="5" class="cc"/><text class="ct" x="925" y="873.5">14</text>
<circle cx="1051" cy="872" r="5" class="cc"/><text class="ct" x="1051" y="873.5">15</text>
<circle cx="1168" cy="872" r="5" class="cc"/><text class="ct" x="1168" y="873.5">16</text>
<circle cx="1286" cy="872" r="5" class="cc"/><text class="ct" x="1286" y="873.5">17</text>

<polygon points="568,897 577,897 577,956 574,963 553,963 553,943" class="k" stroke-width="1.1"/>
<rect x="646" y="896" width="57" height="70" class="k" stroke-width="1.1"/>
<line x1="646" y1="964" x2="703" y2="964" class="t"/>
<rect x="772" y="897" width="45" height="59" class="k" stroke-width="1.1"/>
<g class="ho"><circle cx="777" cy="902" r="1.8"/><circle cx="777" cy="920" r="1.8"/><circle cx="777" cy="933" r="1.8"/><circle cx="777" cy="951" r="1.8"/></g>
<rect x="885" y="897" width="57" height="5" class="k"/><line x1="885" y1="899.5" x2="942" y2="899.5" class="t"/>
<rect x="1012" y="897" width="45" height="62" class="k" stroke-width="1.1"/>
<line x1="1012" y1="957" x2="1057" y2="957" class="t"/>
<g class="ho">
<circle cx="1026" cy="902" r="1.8"/><circle cx="1043" cy="902" r="1.8"/><circle cx="1026" cy="915" r="1.8"/><circle cx="1043" cy="915" r="1.8"/>
<circle cx="1026" cy="928" r="1.8"/><circle cx="1043" cy="928" r="1.8"/><circle cx="1026" cy="941" r="1.8"/><circle cx="1043" cy="941" r="1.8"/>
<circle cx="1026" cy="954" r="1.8"/><circle cx="1043" cy="954" r="1.8"/>
</g>
<rect x="1127" y="897" width="52" height="69" class="k" stroke-width="1.1"/>
<g class="ho">
<circle cx="1144" cy="902" r="1.8"/><circle cx="1161" cy="902" r="1.8"/><circle cx="1144" cy="918" r="1.8"/><circle cx="1161" cy="918" r="1.8"/>
<circle cx="1144" cy="932" r="1.8"/><circle cx="1161" cy="932" r="1.8"/><circle cx="1144" cy="945" r="1.8"/><circle cx="1161" cy="945" r="1.8"/>
<circle cx="1144" cy="960" r="1.8"/><circle cx="1161" cy="960" r="1.8"/>
</g>
<rect x="1246" y="897" width="48" height="49" class="k" stroke-width="1.1"/>
<g class="ho"><circle cx="1261" cy="911" r="1.8"/><circle cx="1278" cy="911" r="1.8"/><circle cx="1261" cy="932" r="1.8"/><circle cx="1278" cy="932" r="1.8"/></g>
<g class="r">
<line x1="533" y1="897" x2="533" y2="963"/><line x1="540" y1="943" x2="540" y2="963"/><line x1="553" y1="983" x2="577" y2="983"/><line x1="568" y1="885" x2="577" y2="885"/>
<line x1="634" y1="896" x2="634" y2="966"/><line x1="646" y1="980" x2="703" y2="980"/>
<line x1="752" y1="897" x2="752" y2="956"/><line x1="758" y1="902" x2="758" y2="951"/><line x1="772" y1="975" x2="817" y2="975"/>
<line x1="885" y1="912" x2="942" y2="912"/>
<line x1="994" y1="897" x2="994" y2="959"/><line x1="999" y1="902" x2="999" y2="954"/><line x1="1012" y1="977" x2="1057" y2="977"/><line x1="1012" y1="985" x2="1057" y2="985"/>
<line x1="1107" y1="897" x2="1107" y2="966"/><line x1="1113" y1="902" x2="1113" y2="960"/><line x1="1127" y1="985" x2="1179" y2="985"/><line x1="1127" y1="993" x2="1179" y2="993"/>
<line x1="1225" y1="897" x2="1225" y2="946"/><line x1="1232" y1="911" x2="1232" y2="932"/><line x1="1246" y1="971" x2="1294" y2="971"/><line x1="1246" y1="979" x2="1294" y2="979"/>
<line x1="531" y1="899" x2="535" y2="895"/><line x1="531" y1="965" x2="535" y2="961"/><line x1="551" y1="985" x2="555" y2="981"/><line x1="575" y1="985" x2="579" y2="981"/>
<line x1="632" y1="898" x2="636" y2="894"/><line x1="632" y1="968" x2="636" y2="964"/><line x1="644" y1="982" x2="648" y2="978"/><line x1="701" y1="982" x2="705" y2="978"/>
<line x1="750" y1="899" x2="754" y2="895"/><line x1="750" y1="958" x2="754" y2="954"/><line x1="770" y1="977" x2="774" y2="973"/><line x1="815" y1="977" x2="819" y2="973"/>
<line x1="883" y1="914" x2="887" y2="910"/><line x1="940" y1="914" x2="944" y2="910"/>
<line x1="1010" y1="979" x2="1014" y2="975"/><line x1="1055" y1="979" x2="1059" y2="975"/><line x1="1125" y1="987" x2="1129" y2="983"/><line x1="1177" y1="987" x2="1181" y2="983"/>
<line x1="1244" y1="973" x2="1248" y2="969"/><line x1="1292" y1="973" x2="1296" y2="969"/>
</g>
<text class="rt" x="530" y="930" transform="rotate(-90 530 930)">380</text><text class="rt" x="631" y="931" transform="rotate(-90 631 931)">410</text>
<text class="rt" x="749" y="926" transform="rotate(-90 749 926)">260</text><text class="rt" x="991" y="928" transform="rotate(-90 991 928)">360</text>
<text class="rt" x="1104" y="931" transform="rotate(-90 1104 931)">400</text><text class="rt" x="1222" y="921" transform="rotate(-90 1222 921)">280</text>
<text class="rt" x="565" y="981">140</text><text class="rt" x="675" y="978">340</text><text class="rt" x="795" y="973">340</text>
<text class="rt" x="913" y="910">340</text><text class="rt" x="1035" y="975">280</text><text class="rt" x="1153" y="983">300</text><text class="rt" x="1270" y="969">280</text>
<text class="cs" x="760" y="889">M22</text><text class="cs" x="1002" y="889">M22</text><text class="cs" x="1120" y="889">M22</text><text class="cs" x="1240" y="893">M22</text>

<!-- ================= 1-1 SECTION ================= -->
<text class="st" x="1976" y="48" text-anchor="middle" font-size="8">1-1</text>
<text class="st" x="1976" y="58" text-anchor="middle" font-size="7">skala 1:10</text>
<rect x="1952" y="73" width="51" height="69" class="k" stroke-width="1.1"/>
<line x1="1952" y1="83" x2="2003" y2="83" class="k"/><line x1="1952" y1="130" x2="2003" y2="130" class="k"/>
<line x1="1976" y1="84" x2="1976" y2="129" class="t"/><line x1="1980" y1="84" x2="1980" y2="129" class="t"/>
<g class="ho">
<circle cx="1969" cy="78" r="2"/><circle cx="1986" cy="78" r="2"/><circle cx="1969" cy="93" r="2"/><circle cx="1986" cy="93" r="2"/>
<circle cx="1969" cy="107" r="2"/><circle cx="1986" cy="107" r="2"/><circle cx="1969" cy="121" r="2"/><circle cx="1986" cy="121" r="2"/>
<circle cx="1969" cy="137" r="2"/><circle cx="1986" cy="137" r="2"/>
</g>
<g class="r">
<line x1="1919" y1="73" x2="1919" y2="142"/><line x1="1929" y1="73" x2="1929" y2="142"/>
<line x1="1917" y1="75" x2="1921" y2="71"/><line x1="1917" y1="144" x2="1921" y2="140"/>
<line x1="1927" y1="80" x2="1931" y2="76"/><line x1="1927" y1="95" x2="1931" y2="91"/><line x1="1927" y1="109" x2="1931" y2="105"/><line x1="1927" y1="123" x2="1931" y2="119"/><line x1="1927" y1="139" x2="1931" y2="135"/>
<line x1="1952" y1="165" x2="2003" y2="165"/><line x1="1952" y1="174" x2="2003" y2="174"/>
<line x1="1950" y1="167" x2="1954" y2="163"/><line x1="1967" y1="167" x2="1971" y2="163"/><line x1="1984" y1="167" x2="1988" y2="163"/><line x1="2001" y1="167" x2="2005" y2="163"/>
<line x1="1950" y1="176" x2="1954" y2="172"/><line x1="2001" y1="176" x2="2005" y2="172"/>
</g>
<text class="rt" x="1916" y="108" transform="rotate(-90 1916 108)">400</text><text class="rt" x="1978" y="172">300</text>
<text class="yt" x="1904" y="55">1</text><text class="yt" x="1904" y="133">1</text>
<line x1="1901" y1="50" x2="1901" y2="57" class="yl"/><line x1="1901" y1="128" x2="1901" y2="135" class="yl"/>
<circle cx="2014" cy="76" r="4" class="cc"/><text class="ct" x="2014" y="77.5">1</text>
<circle cx="2016" cy="103" r="4" class="cc"/><text class="ct" x="2016" y="104.5">16</text>
<text class="cs" x="1995" y="71">SMAS</text>

<!-- ================= UPPER CONNECTION DETAIL ================= -->
<text class="st" x="2093" y="36" textLength="171" lengthAdjust="spacingAndGlyphs">SZCZEGÓŁ POŁĄCZENIA MONTAŻOWEGO PASA GÓRNEGO</text>
<text class="st" x="2093" y="46" textLength="36" lengthAdjust="spacingAndGlyphs">SKALA 1:10</text>
<line x1="2077" y1="98" x2="2164" y2="89.3" class="m"/>
<line x1="2077" y1="101" x2="2164" y2="92.3" class="t"/>
<line x1="2082" y1="144" x2="2164" y2="135.8" class="t"/>
<line x1="2082" y1="147" x2="2164" y2="138.8" class="m"/>
<line x1="2077" y1="123" x2="2164" y2="114.3" class="dc"/>
<line x1="2076" y1="95" x2="2083" y2="151" class="t"/>
<line x1="2173" y1="88.4" x2="2252" y2="80.5" class="m"/>
<line x1="2173" y1="91.4" x2="2252" y2="83.5" class="t"/>
<line x1="2173" y1="134.9" x2="2259" y2="126.3" class="t"/>
<line x1="2173" y1="137.9" x2="2259" y2="129.3" class="m"/>
<line x1="2173" y1="113" x2="2256" y2="104.7" class="dc"/>
<line x1="2251" y1="77" x2="2260" y2="133" class="t"/>
<rect x="2164" y="80" width="9" height="72" class="k" fill="#fff" stroke-width="1.2"/>
<g fill="#222">
<circle cx="2160" cy="92" r="2.2"/><circle cx="2177" cy="92" r="2.2"/><circle cx="2160" cy="103" r="2.2"/><circle cx="2177" cy="103" r="2.2"/>
<circle cx="2160" cy="114" r="2.2"/><circle cx="2177" cy="114" r="2.2"/><circle cx="2160" cy="124" r="2.2"/><circle cx="2177" cy="124" r="2.2"/>
<circle cx="2160" cy="135" r="2.2"/><circle cx="2177" cy="135" r="2.2"/><circle cx="2160" cy="146" r="2.2"/><circle cx="2177" cy="146" r="2.2"/>
</g>
<line x1="2159" y1="150" x2="2159" y2="227" class="k"/><line x1="2163" y1="150" x2="2163" y2="227" class="t"/>
<line x1="2175" y1="150" x2="2175" y2="227" class="t"/><line x1="2180" y1="150" x2="2180" y2="227" class="k"/>
<line x1="2155" y1="227" x2="2185" y2="227" class="g"/>
<polygon points="2133,52 2146,48 2150,88 2137,92" class="k" fill="#fff" stroke-width="1.1"/>
<line x1="2140" y1="56" x2="2143" y2="86" class="t"/>
<circle cx="2142" cy="60" r="1.8" fill="#333"/><circle cx="2145" cy="80" r="1.8" fill="#333"/>
<polygon points="2168,96 2190,118 2168,140 2146,118" class="cy"/>
<g class="r">
<line x1="2210" y1="80" x2="2210" y2="150"/><line x1="2218" y1="84" x2="2218" y2="146"/><line x1="2226" y1="78" x2="2226" y2="152"/>
<line x1="2208" y1="82" x2="2212" y2="78"/><line x1="2208" y1="152" x2="2212" y2="148"/>
<line x1="2216" y1="94" x2="2220" y2="90"/><line x1="2216" y1="105" x2="2220" y2="101"/><line x1="2216" y1="116" x2="2220" y2="112"/><line x1="2216" y1="126" x2="2220" y2="122"/><line x1="2216" y1="137" x2="2220" y2="133"/>
<line x1="2224" y1="80" x2="2228" y2="76"/><line x1="2224" y1="154" x2="2228" y2="150"/>
<line x1="2160" y1="249" x2="2180" y2="249"/><line x1="2158" y1="251" x2="2162" y2="247"/><line x1="2168" y1="251" x2="2172" y2="247"/><line x1="2178" y1="251" x2="2182" y2="247"/>
</g>
<text class="yt" x="2196" y="55">3</text><text class="yt" x="2196" y="176">3</text>
<line x1="2194" y1="50" x2="2194" y2="57" class="yl"/><line x1="2194" y1="171" x2="2194" y2="178" class="yl"/>
<circle cx="2111" cy="111" r="4" class="cc"/><text class="ct" x="2111" y="112.5">1</text>
<circle cx="2171" cy="90" r="4" class="cc"/><text class="ct" x="2171" y="91.5">16</text>
<circle cx="2143" cy="202" r="4" class="cc"/><text class="ct" x="2143" y="203.5">10</text>
<text class="cs" x="2180" y="88">SMAS-10.9</text><text class="cs" x="2180" y="92">L=80 mm</text>
<text class="cs" x="2138" y="152">a5</text><text class="cs" x="2196" y="117">KS.</text>

<!-- ================= 3-3 SECTION ================= -->
<text class="st" x="2339" y="48" text-anchor="middle" font-size="8">3-3</text>
<text class="st" x="2339" y="58" text-anchor="middle" font-size="7">skala 1:10</text>
<rect x="2316" y="73" width="51" height="69" class="k" stroke-width="1.2"/>
<line x1="2316" y1="83" x2="2367" y2="83" class="k"/><line x1="2316" y1="85" x2="2367" y2="85" class="t"/>
<line x1="2316" y1="130" x2="2367" y2="130" class="k"/><line x1="2316" y1="128" x2="2367" y2="128" class="t"/>
<rect x="2324" y="86" width="14" height="41" rx="3" class="t"/><rect x="2345" y="86" width="14" height="41" rx="3" class="t"/>
<g class="hb">
<circle cx="2333" cy="78" r="2.8"/><circle cx="2350" cy="78" r="2.8"/><circle cx="2333" cy="93" r="2.8"/><circle cx="2350" cy="93" r="2.8"/>
<circle cx="2333" cy="107" r="2.8"/><circle cx="2350" cy="107" r="2.8"/><circle cx="2333" cy="121" r="2.8"/><circle cx="2350" cy="121" r="2.8"/>
<circle cx="2333" cy="137" r="2.8"/><circle cx="2350" cy="137" r="2.8"/>
</g>
<line x1="2339" y1="142" x2="2339" y2="227" class="k"/><line x1="2344" y1="142" x2="2344" y2="227" class="k"/>
<line x1="2341.5" y1="142" x2="2341.5" y2="227" class="dc"/>
<g class="cy"><line x1="2316" y1="95" x2="2300" y2="96"/><line x1="2367" y1="95" x2="2384" y2="96"/><line x1="2316" y1="118" x2="2300" y2="130"/></g>
<g class="r">
<line x1="2292" y1="73" x2="2292" y2="142"/><line x1="2300" y1="78" x2="2300" y2="137"/><line x1="2400" y1="73" x2="2400" y2="142"/><line x1="2390" y1="73" x2="2390" y2="90"/>
<line x1="2290" y1="75" x2="2294" y2="71"/><line x1="2290" y1="144" x2="2294" y2="140"/>
<line x1="2298" y1="80" x2="2302" y2="76"/><line x1="2298" y1="95" x2="2302" y2="91"/><line x1="2298" y1="109" x2="2302" y2="105"/><line x1="2298" y1="123" x2="2302" y2="119"/><line x1="2298" y1="139" x2="2302" y2="135"/>
<line x1="2398" y1="75" x2="2402" y2="71"/><line x1="2398" y1="144" x2="2402" y2="140"/>
<line x1="2316" y1="165" x2="2367" y2="165"/><line x1="2316" y1="174" x2="2367" y2="174"/>
<line x1="2314" y1="167" x2="2318" y2="163"/><line x1="2339" y1="167" x2="2343" y2="163"/><line x1="2365" y1="167" x2="2369" y2="163"/>
<line x1="2314" y1="176" x2="2318" y2="172"/><line x1="2365" y1="176" x2="2369" y2="172"/>
</g>
<text class="rt" x="2397" y="108" transform="rotate(-90 2397 108)">400</text><text class="rt" x="2341" y="172">300</text>
<circle cx="2324" cy="64" r="4" class="cc"/><text class="ct" x="2324" y="65.5">16</text>
<circle cx="2378" cy="72" r="4" class="cc"/><text class="ct" x="2378" y="73.5">1</text>
<circle cx="2360" cy="194" r="4" class="cc"/><text class="ct" x="2360" y="195.5">10</text>
<text class="cs" x="2350" y="66">SMAS-10.9</text><text class="cs" x="2350" y="70">L=80 mm</text>
<text class="cs" x="2306" y="96">a5</text><text class="cs" x="2378" y="96">a5</text><text class="cs" x="2304" y="82">a5</text><text class="cs" x="2304" y="134">a5</text>

<!-- ================= 2-2 SECTION ================= -->
<text class="st" x="1983" y="334" text-anchor="middle" font-size="8">2-2</text>
<text class="st" x="1983" y="344.5" text-anchor="middle" font-size="7">skala 1:10</text>
<rect x="1962" y="361" width="45" height="61" class="k" stroke-width="1.1"/>
<line x1="1962" y1="370" x2="2007" y2="370" class="k"/><line x1="1962" y1="372" x2="2007" y2="372" class="t"/>
<line x1="1962" y1="410" x2="2007" y2="410" class="k"/><line x1="1962" y1="408" x2="2007" y2="408" class="t"/>
<line x1="1983" y1="372" x2="1983" y2="408" class="t"/><line x1="1986" y1="372" x2="1986" y2="408" class="t"/>
<g class="ho">
<circle cx="1976" cy="365" r="2"/><circle cx="1992" cy="365" r="2"/><circle cx="1976" cy="379" r="2"/><circle cx="1992" cy="379" r="2"/>
<circle cx="1976" cy="391" r="2"/><circle cx="1992" cy="391" r="2"/><circle cx="1976" cy="404" r="2"/><circle cx="1992" cy="404" r="2"/>
<circle cx="1976" cy="417" r="2"/><circle cx="1992" cy="417" r="2"/>
</g>
<g class="r">
<line x1="1930" y1="360" x2="1930" y2="423"/><line x1="1938" y1="365" x2="1938" y2="417"/>
<line x1="1928" y1="362" x2="1932" y2="358"/><line x1="1928" y1="425" x2="1932" y2="421"/>
<line x1="1936" y1="367" x2="1940" y2="363"/><line x1="1936" y1="381" x2="1940" y2="377"/><line x1="1936" y1="393" x2="1940" y2="389"/><line x1="1936" y1="406" x2="1940" y2="402"/><line x1="1936" y1="419" x2="1940" y2="415"/>
<line x1="1962" y1="445" x2="2007" y2="445"/><line x1="1962" y1="454" x2="2007" y2="454"/>
<line x1="1960" y1="447" x2="1964" y2="443"/><line x1="1974" y1="447" x2="1978" y2="443"/><line x1="1990" y1="447" x2="1994" y2="443"/><line x1="2005" y1="447" x2="2009" y2="443"/>
<line x1="1960" y1="456" x2="1964" y2="452"/><line x1="2005" y1="456" x2="2009" y2="452"/>
</g>
<text class="rt" x="1927" y="392" transform="rotate(-90 1927 392)">360</text><text class="rt" x="1985" y="452">280</text>
<text class="yt" x="1904" y="355">2</text><text class="yt" x="1904" y="431">2</text>
<line x1="1901" y1="350" x2="1901" y2="357" class="yl"/><line x1="1901" y1="426" x2="1901" y2="433" class="yl"/>
<circle cx="2019" cy="363" r="4" class="cc"/><text class="ct" x="2019" y="364.5">2</text>
<circle cx="2021" cy="389" r="4" class="cc"/><text class="ct" x="2021" y="390.5">16</text>
<text class="cs" x="1999" y="350">SMAS</text>
<line x1="1998" y1="351" x2="1993" y2="363" class="cy"/>

<!-- ================= LOWER CONNECTION DETAIL ================= -->
<text class="st" x="2093" y="292" textLength="171" lengthAdjust="spacingAndGlyphs">SZCZEGÓŁ POŁĄCZENIA MONTAŻOWEGO PASA DOLNEGO</text>
<text class="st" x="2093" y="302" textLength="36" lengthAdjust="spacingAndGlyphs">SKALA 1:10</text>
<g class="r"><line x1="2160" y1="303" x2="2182" y2="303"/><line x1="2158" y1="305" x2="2162" y2="301"/><line x1="2169" y1="305" x2="2173" y2="301"/><line x1="2180" y1="305" x2="2184" y2="301"/></g>
<line x1="2089" y1="415" x2="2260" y2="415" class="m"/>
<line x1="2089" y1="417.5" x2="2260" y2="417.5" class="t"/>
<line x1="2089" y1="454.5" x2="2260" y2="454.5" class="t"/>
<line x1="2089" y1="457" x2="2260" y2="457" class="m"/>
<line x1="2089" y1="435" x2="2260" y2="435" class="dc"/>
<line x1="2089" y1="410" x2="2089" y2="466" class="t"/><line x1="2260" y1="410" x2="2260" y2="466" class="t"/>
<line x1="2163" y1="328" x2="2163" y2="410" class="k"/><line x1="2169" y1="328" x2="2169" y2="410" class="t"/>
<line x1="2181" y1="328" x2="2181" y2="410" class="t"/><line x1="2186" y1="328" x2="2186" y2="410" class="k"/>
<line x1="2155" y1="328" x2="2195" y2="328" class="g"/>
<line x1="2082" y1="352" x2="2153" y2="415" class="m"/><line x1="2093" y1="342" x2="2162" y2="409" class="m"/>
<line x1="2087" y1="347" x2="2158" y2="412" class="dc"/>
<line x1="2078" y1="349" x2="2098" y2="338" class="t"/>
<line x1="2245" y1="338" x2="2188" y2="415" class="m"/><line x1="2257" y1="345" x2="2197" y2="413" class="m"/>
<line x1="2251" y1="341" x2="2192" y2="414" class="dc"/>
<line x1="2240" y1="334" x2="2262" y2="349" class="t"/>
<rect x="2171" y="405" width="8" height="61" class="k" fill="#fff" stroke-width="1.2"/>
<g fill="#222">
<circle cx="2168" cy="409" r="2.3"/><circle cx="2182" cy="409" r="2.3"/><circle cx="2168" cy="422" r="2.3"/><circle cx="2182" cy="422" r="2.3"/>
<circle cx="2168" cy="435" r="2.3"/><circle cx="2182" cy="435" r="2.3"/><circle cx="2168" cy="448" r="2.3"/><circle cx="2182" cy="448" r="2.3"/>
<circle cx="2168" cy="461" r="2.3"/><circle cx="2182" cy="461" r="2.3"/>
</g>
<polygon points="2175,410 2150,435 2175,460 2200,435" class="cy"/>
<g class="r">
<line x1="2140" y1="405" x2="2140" y2="466"/><line x1="2148" y1="409" x2="2148" y2="461"/>
<line x1="2138" y1="407" x2="2142" y2="403"/><line x1="2138" y1="468" x2="2142" y2="464"/>
<line x1="2146" y1="411" x2="2150" y2="407"/><line x1="2146" y1="424" x2="2150" y2="420"/><line x1="2146" y1="437" x2="2150" y2="433"/><line x1="2146" y1="450" x2="2150" y2="446"/><line x1="2146" y1="463" x2="2150" y2="459"/>
</g>
<text class="rt" x="2137" y="436" transform="rotate(-90 2137 436)">360</text>
<text class="yt" x="2114" y="360">4</text><line x1="2119" y1="354" x2="2122" y2="354" class="yl"/><line x1="2122" y1="354" x2="2122" y2="361" class="yl"/>
<circle cx="2148" cy="358" r="4" class="cc"/><text class="ct" x="2148" y="359.5">10</text>
<circle cx="2110" cy="401" r="4" class="cc"/><text class="ct" x="2110" y="402.5">7</text>
<circle cx="2082" cy="425" r="4" class="cc"/><text class="ct" x="2082" y="426.5">2</text>
<text class="cs" x="2153" y="401">a5</text><text class="cs" x="2150" y="430">a5</text><text class="cs" x="2153" y="469">a5</text>

<!-- ================= 4-4 SECTION ================= -->
<text class="st" x="2339" y="296" text-anchor="middle" font-size="8">4-4</text>
<text class="st" x="2339" y="306" text-anchor="middle" font-size="7">skala 1:10</text>
<line x1="2338" y1="320" x2="2338" y2="375" class="k"/><line x1="2345" y1="320" x2="2345" y2="375" class="k"/>
<line x1="2341.5" y1="320" x2="2341.5" y2="404" class="dc"/>
<rect x="2335" y="375" width="13" height="8" class="k" fill="#fff" stroke-width="1.1"/>
<line x1="2337" y1="383" x2="2337" y2="404" class="t"/><line x1="2346" y1="383" x2="2346" y2="404" class="t"/>
<rect x="2319" y="404" width="45" height="62" class="k" stroke-width="1.2"/>
<line x1="2319" y1="415" x2="2364" y2="415" class="k"/><line x1="2319" y1="455" x2="2364" y2="455" class="k"/>
<rect x="2325" y="417" width="14" height="36" rx="3" class="t"/><rect x="2344" y="417" width="14" height="36" rx="3" class="t"/>
<g class="hb">
<circle cx="2333" cy="409" r="2.8"/><circle cx="2350" cy="409" r="2.8"/><circle cx="2333" cy="422" r="2.8"/><circle cx="2350" cy="422" r="2.8"/>
<circle cx="2333" cy="435" r="2.8"/><circle cx="2350" cy="435" r="2.8"/><circle cx="2333" cy="448" r="2.8"/><circle cx="2350" cy="448" r="2.8"/>
<circle cx="2333" cy="461" r="2.8"/><circle cx="2350" cy="461" r="2.8"/>
</g>
<g class="cy"><line x1="2319" y1="425" x2="2302" y2="431"/><line x1="2364" y1="425" x2="2383" y2="431"/></g>
<g class="r">
<line x1="2293" y1="404" x2="2293" y2="466"/><line x1="2398" y1="404" x2="2398" y2="466"/><line x1="2388" y1="404" x2="2388" y2="415"/>
<line x1="2291" y1="406" x2="2295" y2="402"/><line x1="2291" y1="411" x2="2295" y2="407"/><line x1="2291" y1="424" x2="2295" y2="420"/><line x1="2291" y1="437" x2="2295" y2="433"/><line x1="2291" y1="450" x2="2295" y2="446"/><line x1="2291" y1="463" x2="2295" y2="459"/><line x1="2291" y1="468" x2="2295" y2="464"/>
<line x1="2396" y1="406" x2="2400" y2="402"/><line x1="2396" y1="468" x2="2400" y2="464"/>
<line x1="2319" y1="480" x2="2364" y2="480"/><line x1="2319" y1="489" x2="2364" y2="489"/>
<line x1="2317" y1="482" x2="2321" y2="478"/><line x1="2339" y1="482" x2="2343" y2="478"/><line x1="2362" y1="482" x2="2366" y2="478"/><line x1="2317" y1="491" x2="2321" y2="487"/><line x1="2362" y1="491" x2="2366" y2="487"/>
</g>
<text class="rt" x="2395" y="437" transform="rotate(-90 2395 437)">360</text><text class="rt" x="2341" y="487">280</text>
<circle cx="2317" cy="389" r="4" class="cc"/><text class="ct" x="2317" y="390.5">7</text>
<circle cx="2371" cy="397" r="4" class="cc"/><text class="ct" x="2371" y="398.5">2</text>
<text class="cs" x="2306" y="408">a5</text><text class="cs" x="2300" y="433">a5</text><text class="cs" x="2378" y="433">a5</text><text class="cs" x="2306" y="463">a5</text>

<!-- ================= TABLE ================= -->
<g>
<rect x="2062" y="726" width="325" height="187.3" fill="#fff" stroke="#444" stroke-width=".8"/>
<g stroke="#666" stroke-width=".45">
<line x1="2062" y1="733" x2="2387" y2="733"/>
<line x1="2165" y1="740" x2="2267" y2="740"/>
<line x1="2062" y1="748" x2="2387" y2="748"/>
<line x1="2062" y1="760.7" x2="2387" y2="760.7"/>
<line x1="2062" y1="773.3" x2="2387" y2="773.3"/>
<line x1="2062" y1="785.7" x2="2387" y2="785.7"/>
<line x1="2062" y1="793.2" x2="2387" y2="793.2"/>
<line x1="2062" y1="800.7" x2="2387" y2="800.7"/>
<line x1="2062" y1="808.3" x2="2387" y2="808.3"/>
<line x1="2062" y1="815.8" x2="2387" y2="815.8"/>
<line x1="2062" y1="823.3" x2="2387" y2="823.3"/>
<line x1="2062" y1="830.8" x2="2387" y2="830.8"/>
<line x1="2062" y1="838.4" x2="2387" y2="838.4"/>
<line x1="2062" y1="845.9" x2="2387" y2="845.9"/>
<line x1="2062" y1="853.4" x2="2387" y2="853.4"/>
<line x1="2062" y1="860.9" x2="2387" y2="860.9"/>
<line x1="2062" y1="868.5" x2="2387" y2="868.5"/>
<line x1="2062" y1="876" x2="2387" y2="876"/>
<line x1="2062" y1="883.5" x2="2387" y2="883.5"/>
<line x1="2062" y1="891" x2="2387" y2="891"/>
<line x1="2267" y1="898.3" x2="2387" y2="898.3"/>
<line x1="2267" y1="906" x2="2387" y2="906"/>
<line x1="2079" y1="733" x2="2079" y2="891"/>
<line x1="2130" y1="733" x2="2130" y2="891"/>
<line x1="2165" y1="733" x2="2165" y2="891"/>
<line x1="2199" y1="740" x2="2199" y2="891"/>
<line x1="2233" y1="740" x2="2233" y2="891"/>
<line x1="2267" y1="733" x2="2267" y2="913"/>
<line x1="2292" y1="733" x2="2292" y2="891"/>
<line x1="2318" y1="733" x2="2318" y2="913"/>
<line x1="2352" y1="733" x2="2352" y2="913"/>
</g>
<text class="tb" x="2225" y="731.3">POZ. 28G. ELEMENT WYSYŁKOWY DŹWIGARA KRATOWEGO WK1.1</text>
<text class="tb" x="2070.5" y="742">Lp.</text>
<text class="tb" x="2104.5" y="742">Nazwa elementu</text>
<text class="tb" x="2147.5" y="742">Symbol</text>
<text class="tb" x="2216" y="738">Wymiary elementu</text>
<text class="tb" x="2182" y="745.5">Długość [mm]</text>
<text class="tb" x="2216" y="745.5">Szerokość [mm]</text>
<text class="tb" x="2250" y="745.5">Grubość [mm]</text>
<text class="tb" x="2279.5" y="742">Liczba [szt.]</text>
<text class="tb" x="2305" y="739.5">Ciężar</text><text class="tb" x="2305" y="744.5">1m.b. [kg]</text>
<text class="tb" x="2335" y="739.5">Ciężar 1</text><text class="tb" x="2335" y="744.5">elementu [kg]</text>
<text class="tb" x="2369.5" y="739.5">Ciężar łączny</text><text class="tb" x="2369.5" y="744.5">[kg]</text>

<g class="tb">
<text x="2070.5" y="755.8">1.</text><text x="2070.5" y="768.4">2.</text><text x="2070.5" y="780.9">3.</text>
<text x="2070.5" y="790.9">4.</text><text x="2070.5" y="798.4">5.</text><text x="2070.5" y="805.9">6.</text><text x="2070.5" y="813.4">7.</text>
<text x="2070.5" y="821">8.</text><text x="2070.5" y="828.4">9.</text><text x="2070.5" y="836">10.</text><text x="2070.5" y="843.5">11.</text>
<text x="2070.5" y="851.1">12.</text><text x="2070.5" y="858.6">13.</text><text x="2070.5" y="866.1">14.</text><text x="2070.5" y="873.6">15.</text>
<text x="2070.5" y="881.2">16.</text><text x="2070.5" y="888.7">17.</text>
</g>
<g class="tl">
<text x="2081" y="755.8">Pas górny wiązara</text><text x="2132" y="755.8">HEA 300</text>
<text x="2081" y="768.4">Pas dolny wiązara</text><text x="2132" y="768.4">HEA 260</text>
<text x="2081" y="780.9">Krzyżulec podporowy</text><text x="2132" y="780.9">SHS 140x10</text>
<text x="2081" y="790.9">Krzyżulec nr 1</text><text x="2132" y="790.9">SHS 120x8</text>
<text x="2081" y="798.4">Krzyżulec nr 2</text><text x="2132" y="798.4">SHS 100x8</text>
<text x="2081" y="805.9">Krzyżulec nr 3</text><text x="2132" y="805.9">SHS 100x8</text>
<text x="2081" y="813.4">Krzyżulec nr 4</text><text x="2132" y="813.4">SHS 80x4</text>
<text x="2081" y="821">Słupek nr 1</text><text x="2132" y="821">SHS 80x4</text>
<text x="2081" y="828.4">Słupek nr 2</text><text x="2132" y="828.4">SHS 80x4</text>
<text x="2081" y="836">Słupek nr 3</text><text x="2132" y="836">SHS 80x3</text>
<text x="2081" y="843.5">Blacha</text><text x="2132" y="843.5">bl. 20x140x380</text>
<text x="2081" y="851.1">Blacha</text><text x="2132" y="851.1">bl. 20x340x410</text>
<text x="2081" y="858.6">Blacha</text><text x="2132" y="858.6">bl. 20x340x260</text>
<text x="2081" y="866.1">Blacha</text><text x="2132" y="866.1">bl. 20x20x340</text>
<text x="2081" y="873.6">Blacha</text><text x="2132" y="873.6">bl. 20x280x360</text>
<text x="2081" y="881.2">Blacha</text><text x="2132" y="881.2">bl. 20x300x400</text>
<text x="2081" y="888.7">Blacha</text><text x="2132" y="888.7">bl. 20x280x280</text>
</g>
<g class="tb">
<text x="2182" y="755.8">10547</text><text x="2216" y="755.8">-</text><text x="2250" y="755.8">-</text><text x="2279.5" y="755.8">1</text><text x="2305" y="755.8">88,3</text><text x="2335" y="755.8">1372,80</text><text x="2369.5" y="755.8">1 372,80</text>
<text x="2182" y="768.4">13160</text><text x="2216" y="768.4">-</text><text x="2250" y="768.4">-</text><text x="2279.5" y="768.4">1</text><text x="2305" y="768.4">68,2</text><text x="2335" y="768.4">897,65</text><text x="2369.5" y="768.4">897,65</text>
<text x="2182" y="780.9">3458</text><text x="2216" y="780.9">-</text><text x="2250" y="780.9">-</text><text x="2279.5" y="780.9">1</text><text x="2305" y="780.9">40</text><text x="2335" y="780.9">138,30</text><text x="2369.5" y="780.9">138,30</text>
<text x="2182" y="790.9">3822</text><text x="2216" y="790.9">-</text><text x="2250" y="790.9">-</text><text x="2279.5" y="790.9">1</text><text x="2305" y="790.9">27,6</text><text x="2335" y="790.9">105,49</text><text x="2369.5" y="790.9">105,49</text>
<text x="2182" y="798.4">3840</text><text x="2216" y="798.4">-</text><text x="2250" y="798.4">-</text><text x="2279.5" y="798.4">1</text><text x="2305" y="798.4">18,2</text><text x="2335" y="798.4">69,89</text><text x="2369.5" y="798.4">69,89</text>
<text x="2182" y="805.9">4270</text><text x="2216" y="805.9">-</text><text x="2250" y="805.9">-</text><text x="2279.5" y="805.9">1</text><text x="2305" y="805.9">18,2</text><text x="2335" y="805.9">77,71</text><text x="2369.5" y="805.9">77,71</text>
<text x="2182" y="813.4">4248</text><text x="2216" y="813.4">-</text><text x="2250" y="813.4">-</text><text x="2279.5" y="813.4">1</text><text x="2305" y="813.4">9,41</text><text x="2335" y="813.4">39,97</text><text x="2369.5" y="813.4">39,97</text>
<text x="2182" y="821">2143</text><text x="2216" y="821">-</text><text x="2250" y="821">-</text><text x="2279.5" y="821">1</text><text x="2305" y="821">6,9</text><text x="2335" y="821">14,79</text><text x="2369.5" y="821">14,79</text>
<text x="2182" y="828.4">2783</text><text x="2216" y="828.4">-</text><text x="2250" y="828.4">-</text><text x="2279.5" y="828.4">1</text><text x="2305" y="828.4">6,9</text><text x="2335" y="828.4">19,06</text><text x="2369.5" y="828.4">19,06</text>
<text x="2182" y="836">2773</text><text x="2216" y="836">-</text><text x="2250" y="836">-</text><text x="2279.5" y="836">1</text><text x="2305" y="836">2,38</text><text x="2335" y="836">6,64</text><text x="2369.5" y="836">6,64</text>
<text x="2182" y="843.5">380</text><text x="2216" y="843.5">140</text><text x="2250" y="843.5">20</text><text x="2279.5" y="843.5">2</text><text x="2305" y="843.5">21,98</text><text x="2335" y="843.5">8,35</text><text x="2369.5" y="843.5">16,70</text>
<text x="2182" y="851.1">410</text><text x="2216" y="851.1">340</text><text x="2250" y="851.1">20</text><text x="2279.5" y="851.1">1</text><text x="2305" y="851.1">53,38</text><text x="2335" y="851.1">21,89</text><text x="2369.5" y="851.1">21,89</text>
<text x="2182" y="858.6">260</text><text x="2216" y="858.6">340</text><text x="2250" y="858.6">20</text><text x="2279.5" y="858.6">1</text><text x="2305" y="858.6">53,38</text><text x="2335" y="858.6">13,88</text><text x="2369.5" y="858.6">13,88</text>
<text x="2182" y="866.1">340</text><text x="2216" y="866.1">20</text><text x="2250" y="866.1">20</text><text x="2279.5" y="866.1">2</text><text x="2305" y="866.1">3,14</text><text x="2335" y="866.1">1,07</text><text x="2369.5" y="866.1">2,14</text>
<text x="2182" y="873.6">360</text><text x="2216" y="873.6">280</text><text x="2250" y="873.6">20</text><text x="2279.5" y="873.6">1</text><text x="2305" y="873.6">43,62</text><text x="2335" y="873.6">14,70</text><text x="2369.5" y="873.6">14,70</text>
<text x="2182" y="881.2">400</text><text x="2216" y="881.2">300</text><text x="2250" y="881.2">20</text><text x="2279.5" y="881.2">1</text><text x="2305" y="881.2">47,1</text><text x="2335" y="881.2">18,84</text><text x="2369.5" y="881.2">18,84</text>
<text x="2182" y="888.7">280</text><text x="2216" y="888.7">280</text><text x="2250" y="888.7">20</text><text x="2279.5" y="888.7">1</text><text x="2305" y="888.7">43,96</text><text x="2335" y="888.7">12,31</text><text x="2369.5" y="888.7">12,31</text>
<text x="2292.5" y="896">Razem</text><text x="2335" y="896">[kg]</text><text x="2369.5" y="896">2 842,92</text>
<text x="2292.5" y="903.6">Dodatek na spoiny 1,8%</text><text x="2335" y="903.6">[kg]</text><text x="2369.5" y="903.6">51,17</text>
<text x="2292.5" y="911.1">Ogółem</text><text x="2335" y="911.1">[kg]</text><text x="2369.5" y="911.1">2 894,09</text>
</g>
<text x="2164" y="905" font-size="9.5" font-weight="bold" fill="#222" text-anchor="middle">Wykonać x9</text>
</g>

<!-- ================= NOTES ================= -->
<g class="nt">
<text x="2395" y="704">Spoiny niewymiarowane wykonać jako pachwinowe o gr. 0,7t (t-gr. cieńszej ścianki łączonych elementów).</text>
<text x="2395" y="709">Minimalna grubość spoiny - 3 mm.</text>
<text x="2395" y="714">Rysunek rozpatrywać razem z rysunkiem konstrukcji dachu.</text>
</g>
<rect x="2395" y="718" width="145" height="15" fill="none" stroke="#222" stroke-width="1.4"/>
<g class="nt">
<text x="2398" y="724">Stal konstrukcyjna: S235JRG2 wg PN-EN 10025-2.</text>
<text x="2398" y="729.5">Elektrody: EX 70E</text>
</g>
<rect x="2395" y="737" width="145" height="100" fill="none" stroke="#222" stroke-width="1.4"/>
<g class="nt" font-size="3.2">
<text x="2398" y="743">UWAGI:</text>
<text x="2398" y="748.5">Elementy stalowe zakwalifikowano do zabezpieczenia antykorozyjnego, wszystkie metody</text>
<text x="2398" y="754">oczyszczania - czyszczenie do stopnia czystości Sa 2 1/2 wg PN-EN ISO 8501-1: 2008.</text>
<text x="2398" y="759.5">Zabezpieczenie konstr. stalowej przed korozją należy wykonać zgodnie z PN-EN ISO 12944</text>
<text x="2398" y="765">Wartości systematyczne.</text>
<text x="2398" y="770.5">Kategoria korozyjności C2 trwałość długa H.</text>
<text x="2398" y="776">Zastosować powłokę epoksydowo-poliuretanową ISO 12944 EP/PUR 120/3-Fe Sa2½.</text>
<text x="2398" y="781.5">Farba epoksydowa do gruntowania EP 80 SE pomiarowo poliuretanowa UP 80 pm lub równoważna</text>
<text x="2398" y="787">równoważny system epoksydowo-poliuretanowy.</text>
<text x="2398" y="792.5">Kolorystykę farby wg uzgodnień inwestora.</text>
<text x="2398" y="798">Klasa wykonania konstrukcji - EXC2, wg PN-EN 1090.</text>
<text x="2398" y="803.5">Połączenia sprężone kategorii C - sprężone.</text>
<text x="2398" y="809">Zastosować śruby M20x60-10.9-B-Fe/ZnD zgodnie z PN-EN 14399-4.</text>
<text x="2398" y="814.5">Zastosować nakrętki na śruby M20-10-B-Fe/ZnD zgodnie z PN-EN 14399-4.</text>
<text x="2398" y="820">Zastosować podkładki do śrub M20 - Ø21 300-HV 10.9 Fe/ZnD zgodnie z PN-EN 14399-6.</text>
<text x="2398" y="825.5">Zastosować śruby M20x65-8.8-B-Fe/ZnD zgodnie z PN-EN ISO 4017.</text>
<text x="2398" y="831">Zastosować nakrętki na śruby M20-8-B-Fe/ZnD zgodnie z PN-EN ISO 4034.</text>
<text x="2398" y="835.8">Zastosować podkładki do śrub M20 - Ø17 8.8 Fe/ZnD zgodnie z PN-EN ISO 7090.</text>
</g>
<g class="nt">
<text x="2395" y="846">UWAGA:</text>
<text x="2395" y="851.5">Wszystkie części i otwory wykonywane w montażu należy zabezpieczyć farbą cynkową.</text>
<text x="2395" y="857">Profile przed montażem należy przechowywać w suchym miejscu, pod przykryciem.</text>
</g>
</svg>
</body></html>
